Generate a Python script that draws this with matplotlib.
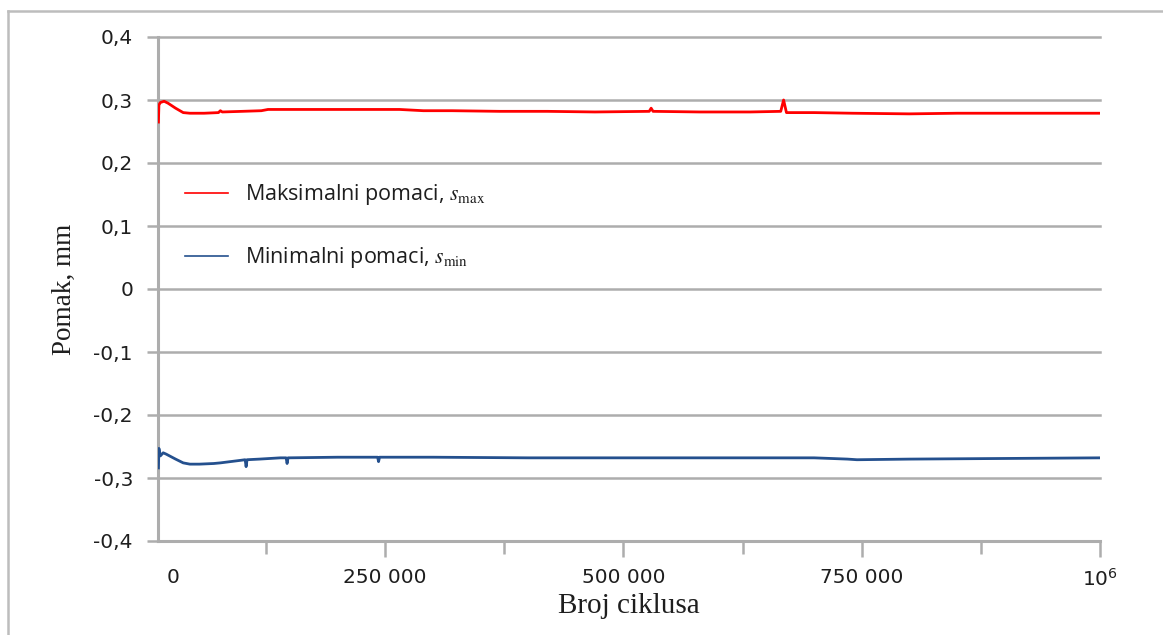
import matplotlib
matplotlib.use('Agg')
import matplotlib.pyplot as plt
from matplotlib.lines import Line2D

# === DATA ===
cycles_max = [12000, 12500, 14000, 18000, 22000, 30000, 38000, 45000, 60000, 75000,
              77000, 79000, 100000, 120000, 127000, 160000, 215000, 265000, 290000,
              320000, 370000, 420000, 470000, 527000, 529000, 531000, 580000, 633000,
              665000, 668000, 671000, 700000, 740000, 800000, 850000, 900000, 950000,
              1000000]
s_max = [0.265, 0.292, 0.296, 0.298, 0.295, 0.287, 0.280, 0.279, 0.279, 0.280,
         0.283, 0.281, 0.282, 0.283, 0.285, 0.285, 0.285, 0.285, 0.283,
         0.283, 0.282, 0.282, 0.281, 0.282, 0.287, 0.282, 0.281, 0.281,
         0.282, 0.300, 0.280, 0.280, 0.279, 0.278, 0.279, 0.279, 0.279,
         0.279]

cycles_min = [12000, 12500, 14000, 17000, 20000, 30000, 38000, 45000, 55000, 70000,
              77000, 98000, 103000, 104000, 105000, 118000, 140000, 146000, 147000,
              148000, 200000, 242000, 243000, 244000, 300000, 400000, 500000, 600000,
              700000, 735000, 745000, 800000, 900000, 1000000]
s_min = [-0.284, -0.253, -0.265, -0.260, -0.262, -0.270, -0.276, -0.278, -0.278, -0.277,
         -0.276, -0.272, -0.271, -0.282, -0.271, -0.270, -0.268, -0.268, -0.277,
         -0.268, -0.267, -0.267, -0.274, -0.267, -0.267, -0.268, -0.268, -0.268,
         -0.268, -0.270, -0.271, -0.270, -0.269, -0.268]

y_ticks = [-0.4, -0.3, -0.2, -0.1, 0.0, 0.1, 0.2, 0.3, 0.4]
y_tick_labels = ['-0,4', '-0,3', '-0,2', '-0,1', '0', '0,1', '0,2', '0,3', '0,4']
x_major = [250000, 500000, 750000, 1000000]
x_major_labels = ['250 000', '500 000', '750 000', r'$\mathregular{10^6}$']
x_minor = [125000, 375000, 625000, 875000]

label_max = r'Maksimalni pomaci, $s_{\mathrm{max}}$'
label_min = r'Minimalni pomaci, $s_{\mathrm{min}}$'

# === STYLE ===
RED = '#ff0000'
BLUE = '#24508e'
GRID = '#adadad'
TEXT = '#1e1e1e'
plt.rcParams['mathtext.fontset'] = 'stix'

fig = plt.figure(figsize=(11.63, 6.35), dpi=100)
ax = fig.add_axes([158 / 1163, 1 - 541 / 635, (1100 - 158) / 1163, (541 - 37) / 635])

ax.plot(cycles_max, s_max, color=RED, linewidth=2.0, label=label_max, zorder=3)
ax.plot(cycles_min, s_min, color=BLUE, linewidth=2.0, label=label_min, zorder=3)

ax.set_xlim(11555, 1000000)
ax.set_ylim(-0.4, 0.4)

ax.set_yticks(y_ticks)
ax.set_yticklabels(y_tick_labels)
ax.set_xticks(x_major)
ax.set_xticklabels(x_major_labels)
ax.set_xticks(x_minor, minor=True)

ax.tick_params(axis='y', direction='out', length=8, width=1.8, color=GRID,
               pad=10, labelsize=14.5, labelcolor=TEXT)
ax.tick_params(axis='x', which='major', direction='out', length=11.5, width=1.8,
               color=GRID, pad=8, labelsize=14.5, labelcolor=TEXT)
ax.tick_params(axis='x', which='minor', direction='out', length=9.5, width=1.8,
               color=GRID)

# "0" label sits just right of the axis in the original
ax.annotate('0', xy=(27000, -0.4), xytext=(0, -11.5 - 8), textcoords='offset points',
            ha='center', va='top', fontsize=14.5, color=TEXT, annotation_clip=False)

ax.grid(axis='y', color=GRID, linewidth=1.8, zorder=0)
for gl in ax.get_ygridlines():
    gl.set_clip_on(False)
ax.set_axisbelow(True)

for side in ['top', 'right']:
    ax.spines[side].set_visible(False)
for side in ['left', 'bottom']:
    ax.spines[side].set_color(GRID)
    ax.spines[side].set_linewidth(2.2)

ax.set_ylabel('Pomak, mm', family='Liberation Serif', fontsize=19.5, color=TEXT, labelpad=12)
ax.set_xlabel('Broj ciklusa', family='Liberation Serif', fontsize=21, color=TEXT, labelpad=2)

leg = ax.legend(loc='upper left', bbox_to_anchor=(0.008, 0.75), frameon=False,
                handlelength=2.0, handletextpad=0.8, labelspacing=1.75,
                prop={'family': 'Open Sans', 'size': 15.5})
for t in leg.get_texts():
    t.set_color(TEXT)
for h in leg.legend_handles:
    h.set_linewidth(1.2)

# outer frame of the original image
fig.add_artist(Line2D([8 / 1163, 1], [1 - 11 / 635, 1 - 11 / 635], color='#bdbdbd', linewidth=1.8))
fig.add_artist(Line2D([8 / 1163, 8 / 1163], [0, 1 - 11 / 635], color='#bdbdbd', linewidth=1.8))

fig.savefig('out.png', dpi=100, facecolor='white')
